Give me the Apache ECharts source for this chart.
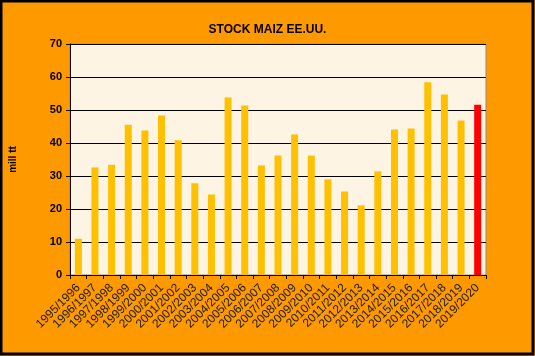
<!DOCTYPE html>
<html>
<head>
<meta charset="utf-8">
<script src="https://cdn.jsdelivr.net/npm/echarts@6/dist/echarts.min.js"></script>
<style>html,body{margin:0;padding:0;background:#FF9900;}#c{width:535px;height:356px;}</style>
</head>
<body>
<div id="c"></div>
<script>
const categories = ['1995/1996','1996/1997','1997/1998','1998/1999','1999/2000','2000/2001','2001/2002','2002/2003','2003/2004','2004/2005','2005/2006','2006/2007','2007/2008','2008/2009','2009/2010','2010/2011','2011/2012','2012/2013','2013/2014','2014/2015','2015/2016','2016/2017','2017/2018','2018/2019','2019/2020'];
const stock = [11.0, 32.6, 33.4, 45.5, 43.8, 48.3, 40.8, 27.8, 24.4, 53.8, 51.4, 33.2, 36.2, 42.6, 36.2, 29.0, 25.3, 21.1, 31.4, 44.1, 44.4, 58.4, 54.7, 46.8, 51.6];
const yTicks = [0, 10, 20, 30, 40, 50, 60, 70];
const highlightIndex = 24;

const chart = echarts.init(document.getElementById('c'), null, {renderer: 'canvas'});
chart.setOption({
  backgroundColor: '#FF9900',
  animation: false,
  title: {
    text: 'STOCK MAIZ EE.UU.',
    left: 'center',
    top: 19,
    textStyle: {fontFamily: 'Liberation Sans', fontWeight: 'bold', fontSize: 12, color: '#000'}
  },
  grid: {
    left: 68, right: 49, top: 44, bottom: 81,
    show: true, backgroundColor: '#FDF4E3', borderColor: '#9C8C6C', borderWidth: 1
  },
  xAxis: {
    type: 'category',
    data: categories,
    axisLine: {lineStyle: {color: '#000', width: 1}},
    axisTick: {show: true, interval: 0, length: 4, lineStyle: {color: '#000'}},
    axisLabel: {interval: 0, rotate: 45, fontFamily: 'Liberation Sans', fontSize: 12, color: '#1a1a1a', margin: 11}
  },
  yAxis: {
    type: 'value',
    min: yTicks[0], max: yTicks[yTicks.length - 1], interval: 10,
    name: 'mill tt',
    nameLocation: 'middle',
    nameRotate: 90,
    nameGap: 52,
    nameTextStyle: {fontFamily: 'Liberation Sans', fontWeight: 'bold', fontSize: 10, color: '#000'},
    axisLine: {show: true, lineStyle: {color: '#000', width: 1}},
    axisTick: {show: true, length: 4, lineStyle: {color: '#000'}},
    axisLabel: {fontFamily: 'Liberation Sans', fontWeight: 'bold', fontSize: 11, color: '#000', margin: 8},
    splitLine: {show: true, lineStyle: {color: '#000', width: 1}}
  },
  series: [{
    type: 'bar',
    barWidth: 7,
    data: stock.map((v, i) => ({value: v, itemStyle: {color: i === highlightIndex ? '#FF0000' : '#FFC000'}}))
  }],
  graphic: [{
    type: 'rect',
    shape: {x: 1, y: 1, width: 532, height: 353},
    style: {fill: 'none', stroke: '#000', lineWidth: 3},
    silent: true,
    z: 100
  }]
});
</script>
</body>
</html>
